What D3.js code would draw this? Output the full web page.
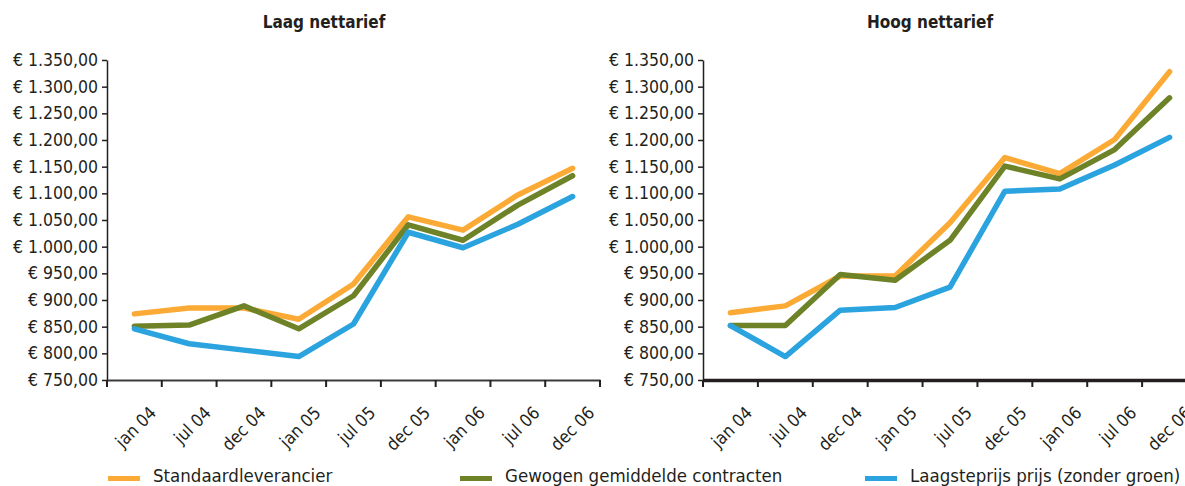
<!DOCTYPE html>
<html>
<head>
<meta charset="utf-8">
<script src="https://cdn.jsdelivr.net/npm/d3@7"></script>
<style>
    body { margin: 0; background: #fff; }
    svg text { font-family: "Liberation Sans Narrow", "DejaVu Sans Condensed", "Roboto", sans-serif; fill: #231f20; }
</style>
</head>
<body>
<svg id="chart" width="1185" height="486"></svg>
<script>
// tick labels and series
const months = ['jan 04', 'jul 04', 'dec 04', 'jan 05', 'jul 05', 'dec 05', 'jan 06', 'jul 06', 'dec 06'];
const yTicks = [750, 800, 850, 900, 950, 1000, 1050, 1100, 1150, 1200, 1250, 1300, 1350];

const laagStandaard = [874, 885, 885, 864, 930, 1056, 1031, 1097, 1147];
const laagGewogen = [851, 853, 889, 846, 908, 1041, 1012, 1078, 1133];
const laagLaagste = [846, 818, 806, 794, 855, 1027, 998, 1042, 1094];

const hoogStandaard = [876, 889, 945, 945, 1045, 1167, 1137, 1201, 1328];
const hoogGewogen = [852, 852, 948, 937, 1012, 1151, 1127, 1182, 1279];
const hoogLaagste = [852, 794, 881, 886, 924, 1104, 1108, 1153, 1205];

const seriesNames = ['Standaardleverancier', 'Gewogen gemiddelde contracten', 'Laagsteprijs prijs (zonder groen)'];
const colors = ['#fbab35', '#6e8227', '#2aa3df'];

const svg = d3.select('#chart');

const y = d3.scaleLinear().domain([750, 1350]).range([380, 60]);
const euro = d => '€ ' + d3.format(',.2f')(d).replace(/,/g, '#').replace('.', ',').replace(/#/g, '.');

drawPanel('Laag nettarief', 324, 107, 600, [laagStandaard, laagGewogen, laagLaagste], 2, '#3a3a3a');
drawPanel('Hoog nettarief', 930, 703, 1197, [hoogStandaard, hoogGewogen, hoogLaagste], 3.5, '#231f20');

function drawPanel(title, titleX, x0, x1, series, axisWidth, axisColor) {
    const x = d3.scaleBand().domain(months).range([x0, x1]);

    svg.append('text')
        .attr('x', titleX)
        .attr('y', 28)
        .attr('text-anchor', 'middle')
        .style('font-size', '17px')
        .style('font-weight', 'bold')
        .text(title);

    // y axis
    const ya = svg.append('g')
        .attr('transform', `translate(${x0},0)`)
        .call(d3.axisLeft(y).tickValues(yTicks).tickFormat(euro).tickSize(5).tickSizeOuter(0));
    ya.select('.domain').attr('stroke', '#231f20').attr('stroke-width', 1.5);
    ya.selectAll('.tick line').attr('stroke', '#231f20').attr('stroke-width', 1.5);
    ya.selectAll('.tick text').attr('x', -9).style('font-size', '17.5px').attr('fill', '#231f20');

    // x axis
    const xa = svg.append('g')
        .attr('transform', `translate(0,380)`)
        .call(d3.axisBottom(x).tickSize(0).tickSizeOuter(0));
    xa.select('.domain').attr('stroke', axisColor).attr('stroke-width', axisWidth);
    xa.selectAll('.tick text')
        .attr('fill', '#231f20')
        .style('font-size', '17.5px')
        .attr('text-anchor', 'end')
        .attr('transform', 'translate(23,34) rotate(-45)')
        .attr('x', 0).attr('y', 0).attr('dy', 0);

    // band separator ticks
    const edges = months.map(m => x(m)).concat([x1]);
    svg.append('g')
        .selectAll('line')
        .data(edges)
        .join('line')
        .attr('x1', d => d).attr('x2', d => d)
        .attr('y1', 380).attr('y2', 387)
        .attr('stroke', '#231f20')
        .attr('stroke-width', 2);

    const line = d3.line()
        .x((d, i) => x(months[i]) + x.bandwidth() / 2)
        .y(d => y(d));

    series.forEach((s, i) => {
        svg.append('path')
            .datum(s)
            .attr('d', line)
            .attr('fill', 'none')
            .attr('stroke', colors[i])
            .attr('stroke-width', 5.5)
            .attr('stroke-linejoin', 'round')
            .attr('stroke-linecap', 'round');
    });
}

// legend
const legendX = [108, 460, 865];
const legend = svg.selectAll('.legend')
    .data(seriesNames)
    .join('g')
    .attr('class', 'legend')
    .attr('transform', (d, i) => `translate(${legendX[i]}, 476)`);

legend.append('rect')
    .attr('width', 32)
    .attr('height', 5)
    .attr('fill', (d, i) => colors[i]);

legend.append('text')
    .attr('x', 45)
    .attr('y', 6)
    .style('font-size', '18.5px')
    .text(d => d);
</script>
</body>
</html>
